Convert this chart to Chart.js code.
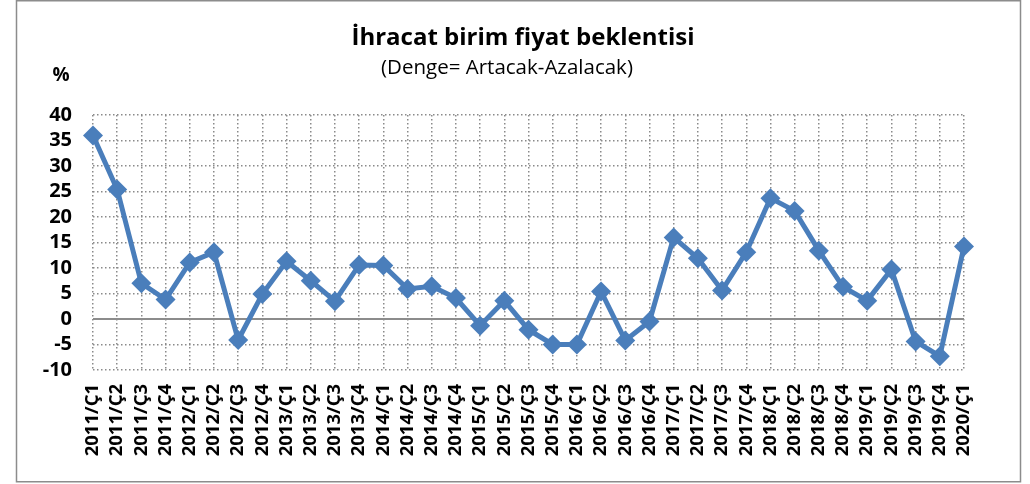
<!DOCTYPE html>
<html lang="tr">
<head>
<meta charset="utf-8">
<title>İhracat birim fiyat beklentisi</title>
<script src="https://cdn.jsdelivr.net/npm/chart.js@4.4.1/dist/chart.umd.min.js"></script>
<style>
  html, body { margin: 0; padding: 0; background: #ffffff; }
  #grafik { display: block; }
</style>
</head>
<body>
<canvas id="grafik" width="1030" height="484"></canvas>
<script>
// ======================================================================
// 1. DATOS DEL GRÁFICO
// ======================================================================
const baslik = 'İhracat birim fiyat beklentisi';
const altBaslik = '(Denge= Artacak-Azalacak)';
const birim = '%';

const donemler = [
    '2011/Ç1', '2011/Ç2', '2011/Ç3', '2011/Ç4',
    '2012/Ç1', '2012/Ç2', '2012/Ç3', '2012/Ç4',
    '2013/Ç1', '2013/Ç2', '2013/Ç3', '2013/Ç4',
    '2014/Ç1', '2014/Ç2', '2014/Ç3', '2014/Ç4',
    '2015/Ç1', '2015/Ç2', '2015/Ç3', '2015/Ç4',
    '2016/Ç1', '2016/Ç2', '2016/Ç3', '2016/Ç4',
    '2017/Ç1', '2017/Ç2', '2017/Ç3', '2017/Ç4',
    '2018/Ç1', '2018/Ç2', '2018/Ç3', '2018/Ç4',
    '2019/Ç1', '2019/Ç2', '2019/Ç3', '2019/Ç4',
    '2020/Ç1'
];

const dengeDegerleri = [
    36.0, 25.4, 7.0, 3.8,
    11.1, 13.1, -4.1, 4.9,
    11.3, 7.5, 3.5, 10.6,
    10.5, 5.9, 6.4, 4.1,
    -1.3, 3.6, -2.1, -5.0,
    -5.0, 5.4, -4.2, -0.5,
    16.0, 11.9, 5.6, 13.1,
    23.7, 21.2, 13.4, 6.3,
    3.6, 9.7, -4.4, -7.3,
    14.2
];

const yEksenMin = -10;
const yEksenMax = 40;
const yEksenAdim = 5;

const yaziTipi = '"Open Sans", Lato, sans-serif';

// ======================================================================
// 2. PLUGIN: MARCO EXTERIOR Y TÍTULOS
// ======================================================================
const marcoYTitulos = {
    id: 'marcoYTitulos',
    beforeDraw(chart) {
        const ctx = chart.ctx;
        ctx.save();
        ctx.fillStyle = '#ffffff';
        ctx.fillRect(0, 0, chart.width, chart.height);
        ctx.strokeStyle = '#8c8c8c';
        ctx.lineWidth = 1.5;
        ctx.strokeRect(16.5, 0.75, 1004, 481);
        ctx.restore();
    },
    afterDraw(chart) {
        const ctx = chart.ctx;
        ctx.save();
        ctx.fillStyle = '#000000';
        ctx.textBaseline = 'alphabetic';
        ctx.textAlign = 'center';
        ctx.font = `bold 24px ${yaziTipi}`;
        ctx.fillText(baslik, 523, 45);
        ctx.font = `20.5px ${yaziTipi}`;
        ctx.fillText(altBaslik, 507, 74);
        ctx.font = `bold 19px ${yaziTipi}`;
        ctx.fillText(birim, 61, 81);
        ctx.restore();
    }
};

// ======================================================================
// 3. GRÁFICO DE LÍNEA
// ======================================================================
const ctxGrafik = document.getElementById('grafik').getContext('2d');
const grafico = new Chart(ctxGrafik, {
    type: 'line',
    data: {
        labels: donemler,
        datasets: [{
            data: dengeDegerleri,
            borderColor: '#4a7ebb',
            backgroundColor: '#4a7ebb',
            borderWidth: 5,
            tension: 0,
            pointStyle: 'rectRot',
            pointRadius: 10,
            pointBorderWidth: 0,
            pointBackgroundColor: '#4a7ebb',
            clip: false
        }]
    },
    options: {
        responsive: false,
        animation: false,
        layout: { padding: { left: 0, right: 66, top: 115, bottom: 0 } },
        plugins: {
            legend: { display: false },
            tooltip: { enabled: false },
            title: { display: false }
        },
        scales: {
            x: {
                offset: false,
                grid: {
                    color: '#8a8a8a',
                    lineWidth: 1.5,
                    drawTicks: false
                },
                border: { display: false, dash: [1.5, 2.5] },
                ticks: {
                    color: '#000000',
                    font: { family: yaziTipi, size: 18.5, weight: 'bold' },
                    minRotation: 90,
                    maxRotation: 90,
                    padding: 14,
                    autoSkip: false
                },
                afterFit(scale) { scale.height = 114; }
            },
            y: {
                min: yEksenMin,
                max: yEksenMax,
                grid: {
                    color: ctx => (ctx.tick && ctx.tick.value === 0) ? '#8c8c8c' : '#8a8a8a',
                    lineWidth: ctx => (ctx.tick && ctx.tick.value === 0) ? 2 : 1.5,
                    drawTicks: false
                },
                border: {
                    display: false,
                    dash: ctx => (ctx.tick && ctx.tick.value === 0) ? [] : [1.5, 2.5]
                },
                ticks: {
                    stepSize: yEksenAdim,
                    autoSkip: false,
                    color: '#000000',
                    font: { family: yaziTipi, size: 20, weight: 'bold' },
                    padding: 21
                },
                afterFit(scale) { scale.width = 93; }
            }
        }
    },
    plugins: [marcoYTitulos]
});
</script>
</body>
</html>
